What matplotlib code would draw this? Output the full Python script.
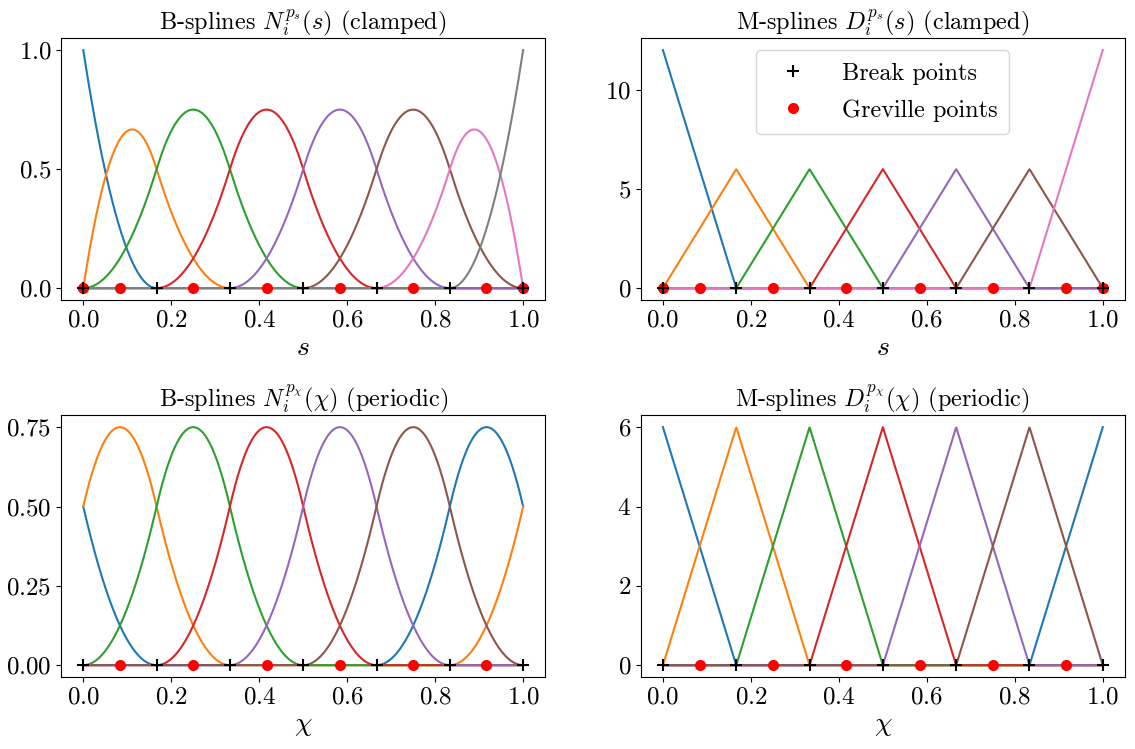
import matplotlib
matplotlib.use('Agg')
import matplotlib.pyplot as plt
import numpy as np

plt.rcParams['font.family'] = 'serif'
plt.rcParams['font.serif'] = ['cmr10']
plt.rcParams['mathtext.fontset'] = 'cm'
plt.rcParams['axes.formatter.use_mathtext'] = True
plt.rcParams['font.size'] = 17

# spline data: degree and break points (6 elements on [0, 1])
degree = 2
break_points = [0, 1/6, 2/6, 3/6, 4/6, 5/6, 1]
# clamped knot vector (end knots repeated degree+1 times)
knots_clamped = [0, 0, 0, 1/6, 2/6, 3/6, 4/6, 5/6, 1, 1, 1]
# periodic knot vector, uniform and extended past the domain
knots_periodic = [-2/6, -1/6, 0, 1/6, 2/6, 3/6, 4/6, 5/6, 1, 7/6, 8/6]
greville_clamped = [0, 1/12, 3/12, 5/12, 7/12, 9/12, 11/12, 1]
greville_periodic = [1/12, 3/12, 5/12, 7/12, 9/12, 11/12]


def basis(knots, p, x):
    # Cox-de Boor recursion, returns array (n_funcs, len(x))
    t = np.asarray(knots, dtype=float)
    m = len(t) - 1
    N = np.zeros((m, len(x)))
    for i in range(m):
        if t[i] < t[i + 1]:
            N[i] = (x >= t[i]) & (x < t[i + 1])
            if t[i + 1] == t[-1]:
                N[i] = N[i] + (x == t[-1])
    for k in range(1, p + 1):
        Nk = np.zeros((m - k, len(x)))
        for i in range(m - k):
            a = 0.0
            b = 0.0
            if t[i + k] > t[i]:
                a = (x - t[i]) / (t[i + k] - t[i]) * N[i]
            if t[i + k + 1] > t[i + 1]:
                b = (t[i + k + 1] - x) / (t[i + k + 1] - t[i + 1]) * N[i + 1]
            Nk[i] = a + b
        N = Nk
    return N


def mspline(knots, p, x):
    # D_i = p / (t_{i+p+1} - t_{i+1}) * N_{i+1}^{p-1}
    t = np.asarray(knots, dtype=float)
    N = basis(knots, p - 1, x)[1:-1]
    D = []
    for i in range(len(N)):
        D.append(p / (t[i + p + 1] - t[i + 1]) * N[i])
    return np.array(D)


def periodic_wrap(func, knots, p, x, n):
    out = func(knots, p, x) + func(knots, p, x + 1) + func(knots, p, x - 1)
    return out[:n]


x = np.linspace(0, 1, 1001)
xp = np.linspace(0, 1 - 1e-9, 1001)
n_per = len(break_points) - 1

curves = [
    basis(knots_clamped, degree, x),
    mspline(knots_clamped, degree, x),
    periodic_wrap(basis, knots_periodic, degree, xp, n_per),
    periodic_wrap(mspline, knots_periodic, degree, xp, n_per),
]
grevilles = [greville_clamped, greville_clamped, greville_periodic, greville_periodic]
titles = [r'B-splines $N_i^{p_s}(s)$ (clamped)',
          r'M-splines $D_i^{p_s}(s)$ (clamped)',
          r'B-splines $N_i^{p_\chi}(\chi)$ (periodic)',
          r'M-splines $D_i^{p_\chi}(\chi)$ (periodic)']
xlabels = [r'$s$', r'$s$', r'$\chi$', r'$\chi$']

fig, axes = plt.subplots(2, 2, figsize=(11.35, 7.49), dpi=100)
plt.subplots_adjust(left=0.054, right=0.991, top=0.949, bottom=0.096,
                    wspace=0.198, hspace=0.44)

for k, ax in enumerate(axes.flat):
    xs = x if k < 2 else xp
    for c in curves[k]:
        ax.plot(xs, c, lw=1.5)
    ax.plot(break_points, np.zeros(len(break_points)), '+', color='k',
            ms=8, mew=1.5, zorder=4, label='Break points')
    ax.plot(grevilles[k], np.zeros(len(grevilles[k])), 'o', color='red',
            ms=7, zorder=3, label='Greville points')
    ax.set_title(titles[k], fontsize=17.5)
    ax.set_xlabel(xlabels[k], fontsize=20, labelpad=2)
    ax.set_xticks([0, 0.2, 0.4, 0.6, 0.8, 1.0])
    ax.tick_params(labelsize=18)

axes[0, 0].set_yticks([0, 0.5, 1.0])
axes[0, 1].set_yticks([0, 5, 10])
axes[1, 0].set_yticks([0, 0.25, 0.5, 0.75])
axes[1, 1].set_yticks([0, 2, 4, 6])
axes[0, 1].legend(loc='upper center', fontsize=17.5, labelspacing=0.6,
                  handletextpad=1.0, borderpad=0.5)

plt.savefig('out.png')
plt.close()
